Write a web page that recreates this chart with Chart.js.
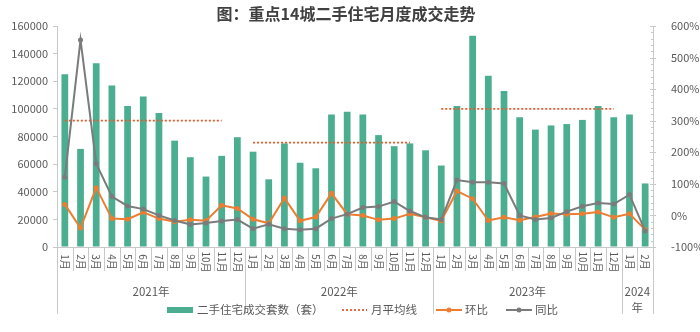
<!DOCTYPE html>
<html>
<head>
<meta charset="utf-8">
<script src="https://cdn.jsdelivr.net/npm/chart.js@4/dist/chart.umd.min.js"></script>
<style>
  html, body { margin: 0; padding: 0; background: #fff; }
  #wrap { width: 700px; height: 332px; position: relative; }
</style>
</head>
<body>
<div id="wrap"><canvas id="chart"></canvas></div>
<script>
// months, grouped by year
var monthLabels = ['1月','2月','3月','4月','5月','6月','7月','8月','9月','10月','11月','12月',
                   '1月','2月','3月','4月','5月','6月','7月','8月','9月','10月','11月','12月',
                   '1月','2月','3月','4月','5月','6月','7月','8月','9月','10月','11月','12月',
                   '1月','2月'];
var yearLabels = ['2021年', '2022年', '2023年', '2024年'];
var yearSpans = [12, 12, 12, 2];

// 二手住宅成交套数（套）
var volumes = [125000, 71000, 133000, 117000, 102000, 109000, 97000, 77000, 65000, 51000, 66000, 79500,
               69000, 49000, 75000, 61000, 57000, 96000, 98000, 96000, 81000, 73000, 75000, 70000,
               59000, 102000, 153000, 124000, 113000, 94000, 85000, 88000, 89000, 92000, 102000, 94000,
               96000, 46000];

// 月平均线: value and first/last month index it covers
var avgValues = [91500, 75500, 100000];
var avgRanges = [[0, 10], [12, 22], [24, 35]];

// 环比 (%)
var mom = [35, -40, 88, -10, -12, 10, -10, -20, -14, -17, 32, 22,
           -12, -25, 55, -17, -5, 70, 4, 0, -14, -10, 5, -6,
           -17, 77, 53, -16, -6, -15, -5, 6, 4, 5, 11, -6,
           5, -45];

// 同比 (%)
var yoy = [121, 556, 164, 60, 30, 20, 0, -16, -29, -24, -18, -13,
           -42, -28, -42, -45, -42, -10, 4, 25, 28, 44, 14, -6,
           -13, 112, 105, 105, 101, 0, -13, -8, 12, 29, 39, 36,
           66, -49];

var leftTicks = [0, 20000, 40000, 60000, 80000, 100000, 120000, 140000, 160000];
var rightTicks = [-100, 0, 100, 200, 300, 400, 500, 600];

var barColor = '#4BAE91';
var momColor = '#ED7D31';
var yoyColor = '#7B7B7B';
var avgColor = '#E55B2C';
var textColor = '#595959';
var lineGray = '#C8C8C8';
var fontName = '"Noto Sans CJK SC", "Noto Sans", sans-serif';

// one dataset per average segment
var avgSets = avgValues.map(function (v, k) {
    var arr = monthLabels.map(function (m, i) {
        return (i >= avgRanges[k][0] && i <= avgRanges[k][1]) ? v : null;
    });
    return {
        type: 'line', label: '月平均线', data: arr, yAxisID: 'y',
        borderColor: avgColor, borderWidth: 1.8, borderDash: [2, 2],
        pointRadius: 0, spanGaps: false, order: 3
    };
});

var datasets = [{
    type: 'bar', label: '二手住宅成交套数（套）', data: volumes, yAxisID: 'y',
    backgroundColor: barColor, barPercentage: 0.43, categoryPercentage: 1.0, order: 4
}].concat(avgSets).concat([{
    type: 'line', label: '环比', data: mom, yAxisID: 'y1',
    borderColor: momColor, backgroundColor: momColor, borderWidth: 2,
    pointRadius: 2.5, pointBackgroundColor: momColor, pointBorderWidth: 0, order: 2
}, {
    type: 'line', label: '同比', data: yoy, yAxisID: 'y1',
    borderColor: yoyColor, backgroundColor: yoyColor, borderWidth: 2,
    pointRadius: 2.5, pointBackgroundColor: yoyColor, pointBorderWidth: 0, order: 1
}]);

// title, category axis blocks, right minor ticks and legend
var decorPlugin = {
    id: 'decor',
    afterDraw: function (chart) {
        var ctx = chart.ctx;
        var area = chart.chartArea;
        var xs = chart.scales.x;
        var y1 = chart.scales.y1;
        var half = (xs.getPixelForValue(1) - xs.getPixelForValue(0)) / 2;
        ctx.save();

        // title
        ctx.fillStyle = '#404040';
        ctx.font = 'bold 16px ' + fontName;
        ctx.textAlign = 'center';
        ctx.textBaseline = 'middle';
        ctx.fillText('图：重点14城二手住宅月度成交走势', 346, 14);

        // separators under the axis
        var yearEdges = [0];
        yearSpans.forEach(function (n) { yearEdges.push(yearEdges[yearEdges.length - 1] + n); });
        ctx.strokeStyle = lineGray;
        ctx.lineWidth = 1;
        for (var i = 0; i <= monthLabels.length; i++) {
            var bx = Math.round(xs.getPixelForValue(i) - half) + 0.5;
            var isYear = yearEdges.indexOf(i) >= 0;
            ctx.beginPath();
            ctx.moveTo(bx, area.bottom);
            ctx.lineTo(bx, isYear ? area.bottom + 67 : area.bottom + 24);
            ctx.stroke();
        }

        // month labels, rotated clockwise
        ctx.fillStyle = textColor;
        ctx.font = '10px ' + fontName;
        monthLabels.forEach(function (m, i) {
            ctx.save();
            ctx.translate(xs.getPixelForValue(i), area.bottom + 15);
            ctx.rotate(Math.PI / 2);
            ctx.textAlign = 'center';
            ctx.textBaseline = 'middle';
            ctx.fillText(m, 0, 0);
            ctx.restore();
        });

        // year labels
        ctx.font = '11.5px ' + fontName;
        ctx.textAlign = 'center';
        ctx.textBaseline = 'middle';
        yearLabels.forEach(function (y, k) {
            var cx = (xs.getPixelForValue(yearEdges[k]) + xs.getPixelForValue(yearEdges[k + 1] - 1)) / 2;
            if (yearSpans[k] < 4) {
                ctx.fillText(y.slice(0, 4), cx, area.bottom + 45);
                ctx.fillText(y.slice(4), cx, area.bottom + 61);
            } else {
                ctx.fillText(y, cx, area.bottom + 45);
            }
        });

        // right axis ticks (major + minor)
        ctx.strokeStyle = lineGray;
        for (var v = -100; v <= 600; v += 20) {
            var ty = Math.round(y1.getPixelForValue(v)) + 0.5;
            var major = v % 100 === 0;
            ctx.beginPath();
            ctx.moveTo(area.right - (major ? 3 : 2), ty);
            ctx.lineTo(area.right + (major ? 3 : 0), ty);
            ctx.stroke();
        }

        // legend
        var ly = 310;
        ctx.font = '11.5px ' + fontName;
        ctx.textAlign = 'left';
        ctx.fillStyle = barColor;
        ctx.fillRect(167, ly - 3, 26, 6);
        ctx.fillStyle = textColor;
        ctx.fillText('二手住宅成交套数（套）', 197, ly);

        ctx.strokeStyle = avgColor;
        ctx.lineWidth = 1.8;
        ctx.setLineDash([2, 2]);
        ctx.beginPath(); ctx.moveTo(342, ly); ctx.lineTo(367, ly); ctx.stroke();
        ctx.setLineDash([]);
        ctx.fillText('月平均线', 371, ly);

        [[436, momColor, '环比'], [506, yoyColor, '同比']].forEach(function (it) {
            ctx.strokeStyle = it[1];
            ctx.fillStyle = it[1];
            ctx.lineWidth = 2;
            ctx.beginPath(); ctx.moveTo(it[0], ly); ctx.lineTo(it[0] + 26, ly); ctx.stroke();
            ctx.beginPath(); ctx.arc(it[0] + 13, ly, 2.5, 0, Math.PI * 2); ctx.fill();
            ctx.fillStyle = textColor;
            ctx.fillText(it[2], it[0] + 29, ly);
        });

        ctx.restore();
    }
};

var ctx = document.getElementById('chart');
var chart = new Chart(ctx, {
    type: 'bar',
    data: { labels: monthLabels, datasets: datasets },
    plugins: [decorPlugin],
    options: {
        responsive: true,
        maintainAspectRatio: false,
        animation: false,
        layout: { padding: { top: 26, left: 0, right: 0, bottom: 0 } },
        plugins: { legend: { display: false }, title: { display: false }, tooltip: { enabled: false } },
        scales: {
            x: {
                type: 'category',
                offset: true,
                grid: { display: false },
                border: { display: true, color: lineGray },
                ticks: { display: false },
                afterFit: function (s) { s.height = 85; }
            },
            y: {
                position: 'left',
                min: 0, max: 160000,
                afterBuildTicks: function (s) { s.ticks = leftTicks.map(function (v) { return { value: v }; }); },
                grid: { drawOnChartArea: false, tickLength: 4, color: lineGray },
                border: { display: true, color: lineGray },
                ticks: {
                    color: textColor, font: { family: fontName, size: 11 }, padding: 5,
                    callback: function (v) { return String(v); }
                },
                afterFit: function (s) { s.width = 57; }
            },
            y1: {
                position: 'right',
                min: -100, max: 600,
                afterBuildTicks: function (s) { s.ticks = rightTicks.map(function (v) { return { value: v }; }); },
                grid: { display: false },
                border: { display: true, color: lineGray },
                ticks: {
                    color: textColor, font: { family: fontName, size: 11 }, padding: 10,
                    callback: function (v) { return v + '%'; }
                },
                afterFit: function (s) { s.width = 47; }
            }
        }
    }
});
</script>
</body>
</html>
